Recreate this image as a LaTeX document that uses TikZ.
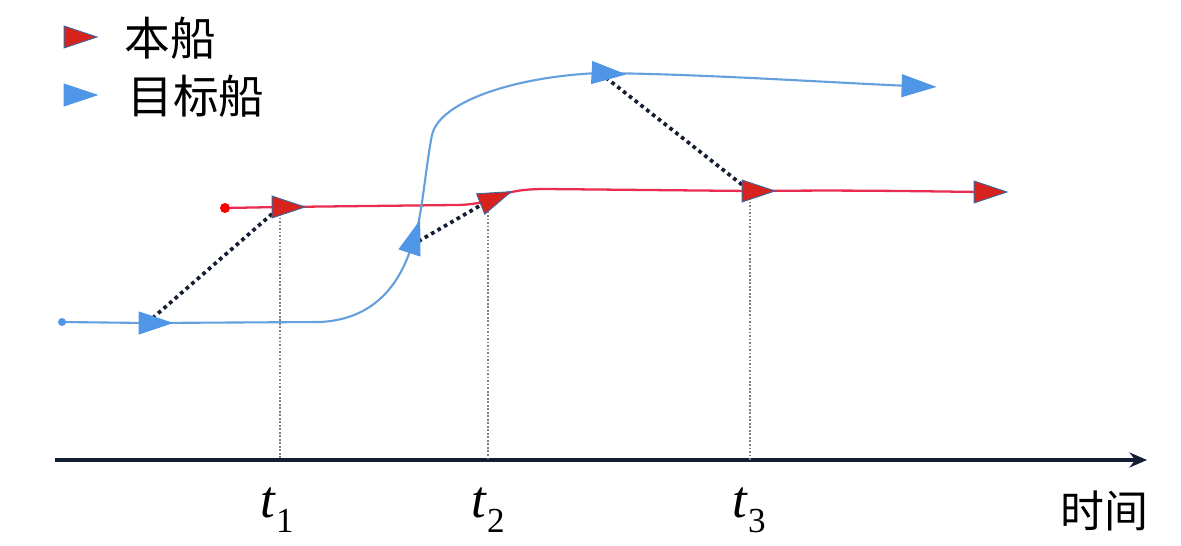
\documentclass[tikz,border=0pt]{standalone}
\usepackage{fontspec}
\setmainfont{Liberation Serif}
\newfontfamily\cjk{Noto Sans CJK SC}
\usetikzlibrary{shapes.geometric,arrows.meta,backgrounds}
\definecolor{shipblue}{RGB}{80,150,230}
\definecolor{trackblue}{RGB}{100,160,220}
\definecolor{shipred}{RGB}{215,35,30}
\definecolor{trackred}{RGB}{232,45,80}
\definecolor{axisnavy}{RGB}{20,30,50}
\newcommand{\tsub}[1]{\textit{t}\raisebox{-0.28em}{\fontsize{20}{22}\selectfont #1}}
\tikzset{
  ship/.style={isosceles triangle, isosceles triangle stretches, inner sep=0pt,
    minimum width=0.44cm, minimum height=0.66cm, line width=0.5pt},
  redship/.style={ship, fill=shipred, draw=shipblue!70!black},
  blueship/.style={ship, fill=shipblue, draw=shipblue},
  redtrack/.style={draw=trackred, line width=1.3pt},
  bluetrack/.style={draw=trackblue, line width=1.2pt},
  link/.style={draw=axisnavy, line width=2.1pt, dash pattern=on 2.1pt off 2.1pt},
  timeline/.style={draw=gray, line width=0.7pt, dash pattern=on 1pt off 1pt},
  axisline/.style={draw=axisnavy, line width=2.4pt, -{Stealth[length=0.35cm,width=0.3cm]}},
  cjklabel/.style={font=\cjk\fontsize{26}{30}\selectfont, inner sep=0pt, anchor=west},
  tlabel/.style={font=\fontsize{30}{34}\selectfont, inner sep=0pt}
}
\begin{document}
\begin{tikzpicture}[x=0.02cm,y=-0.02cm]
\useasboundingbox (0,0) rectangle (1181,545);
% legend
\node[redship] (legred) at (72,37) {};
\node[cjklabel] (legredtext) at (124,38) {本船};
\node[blueship] (legblue) at (72,95) {};
\node[cjklabel] (legbluetext) at (127,96) {目标船};
% axis
\coordinate (axstart) at (55,460);
\coordinate (axend) at (1147,460);
% ships
\node[redship] (r1) at (280,207) {};
\node[redship, rotate=22] (r2) at (488,201) {};
\node[redship] (r3) at (750,191) {};
\node[redship] (r4) at (982,192) {};
\node[blueship] (b1) at (147,323) {};
\node[blueship, rotate=72] (b2) at (412,245) {};
\node[blueship, rotate=-3] (b3) at (600,73) {};
\node[blueship, rotate=-2] (b4) at (910,86) {};
% time labels
\node[tlabel] (t1) at (277,510) {\tsub{1}};
\node[tlabel] (t2) at (488,510) {\tsub{2}};
\node[tlabel] (t3) at (749,510) {\tsub{3}};
\node[cjklabel, font=\cjk\fontsize{25}{29}\selectfont] (tlab) at (1060,511) {时间};
\begin{pgfonlayer}{background}
\draw[axisline] (axstart) -- (axend);
\draw[timeline] (r1.center) -- (r1.center |- axstart);
\draw[timeline] (r2.center) -- (r2.center |- axstart);
\draw[timeline] (r3.center) -- (r3.center |- axstart);
% red track
\coordinate (r0) at (225,208);
\draw[redtrack] (r0) -- (r1.center) -- (455,205)
  .. controls (470,205) and (478,203) .. (r2.center)
  .. controls (500,195) and (512,189) .. (545,189)
  -- (r3.center) .. controls (850,190) and (900,191) .. (r4.center);
\fill[red] (r0) circle (5);
% blue track
\coordinate (b0) at (62,322);
\draw[bluetrack] (b0) -- (b1.center) -- (320,322)
  .. controls (360,320) and (395,300) .. (b2.center)
  .. controls (422,222) and (425,170) .. (432,135)
  .. controls (440,100) and (520,76) .. (b3.center)
  .. controls (700,74) and (820,82) .. (b4.center);
\fill[shipblue] (b0) circle (4);
% distance links
\draw[link] (b1.center) -- (r1.center);
\draw[link] (b2.center) -- (r2.center);
\draw[link] (b3.center) -- (r3.center);
\end{pgfonlayer}
\end{tikzpicture}
\end{document}
